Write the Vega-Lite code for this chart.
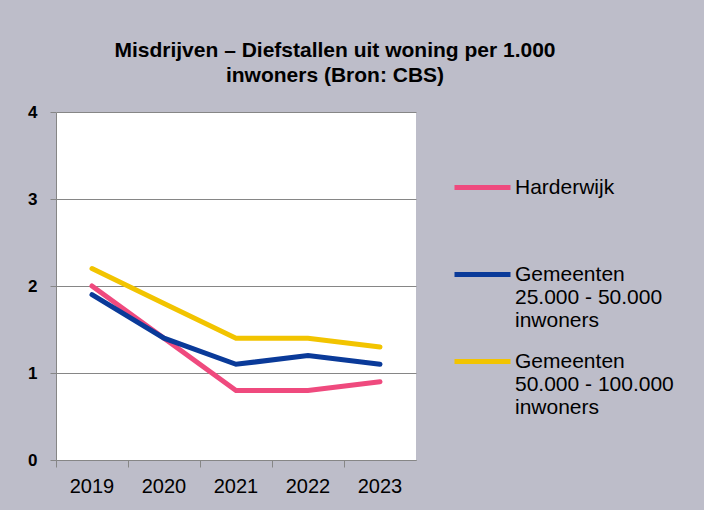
{
  "$schema": "https://vega.github.io/schema/vega-lite/v6.json",
  "width": 360,
  "height": 348,
  "autosize": {"type": "none"},
  "padding": {"left": 56, "top": 112, "right": 288, "bottom": 50},
  "background": "#bdbdc9",
  "title": {
    "text": ["Misdrijven – Diefstallen uit woning per 1.000", "inwoners (Bron: CBS)"],
    "anchor": "middle",
    "frame": "group",
    "dx": 99,
    "fontSize": 21,
    "font": "Liberation Sans",
    "fontWeight": "bold",
    "lineHeight": 25,
    "color": "#000000",
    "offset": 17
  },
  "config": {
    "view": {"fill": "#ffffff", "stroke": null},
    "font": "Liberation Sans"
  },
  "data": {
    "values": [
      {"jaar": "2019", "serie": "Harderwijk", "waarde": 2.0},
      {"jaar": "2020", "serie": "Harderwijk", "waarde": 1.4},
      {"jaar": "2021", "serie": "Harderwijk", "waarde": 0.8},
      {"jaar": "2022", "serie": "Harderwijk", "waarde": 0.8},
      {"jaar": "2023", "serie": "Harderwijk", "waarde": 0.9},
      {"jaar": "2019", "serie": "Gemeenten 25.000 - 50.000 inwoners", "waarde": 1.9},
      {"jaar": "2020", "serie": "Gemeenten 25.000 - 50.000 inwoners", "waarde": 1.4},
      {"jaar": "2021", "serie": "Gemeenten 25.000 - 50.000 inwoners", "waarde": 1.1},
      {"jaar": "2022", "serie": "Gemeenten 25.000 - 50.000 inwoners", "waarde": 1.2},
      {"jaar": "2023", "serie": "Gemeenten 25.000 - 50.000 inwoners", "waarde": 1.1},
      {"jaar": "2019", "serie": "Gemeenten 50.000 - 100.000 inwoners", "waarde": 2.2},
      {"jaar": "2020", "serie": "Gemeenten 50.000 - 100.000 inwoners", "waarde": 1.8},
      {"jaar": "2021", "serie": "Gemeenten 50.000 - 100.000 inwoners", "waarde": 1.4},
      {"jaar": "2022", "serie": "Gemeenten 50.000 - 100.000 inwoners", "waarde": 1.4},
      {"jaar": "2023", "serie": "Gemeenten 50.000 - 100.000 inwoners", "waarde": 1.3}
    ]
  },
  "mark": {"type": "line", "strokeWidth": 5, "strokeCap": "round", "strokeJoin": "miter"},
  "encoding": {
    "x": {
      "field": "jaar",
      "type": "ordinal",
      "scale": {"type": "band", "paddingInner": 0, "paddingOuter": 0},
      "axis": {
        "title": null,
        "labelAngle": 0,
        "bandPosition": 0,
        "labelFontSize": 20,
        "labelColor": "#000000",
        "labelPadding": 9,
        "domainColor": "#868686",
        "tickColor": "#868686",
        "tickSize": 7,
        "grid": false
      }
    },
    "y": {
      "field": "waarde",
      "type": "quantitative",
      "scale": {"domain": [0, 4]},
      "axis": {
        "title": null,
        "values": [0, 1, 2, 3, 4],
        "labelFontSize": 17,
        "labelFontWeight": "bold",
        "labelColor": "#000000",
        "labelPadding": 13,
        "domainColor": "#868686",
        "tickColor": "#868686",
        "tickSize": 6,
        "gridColor": "#868686",
        "gridOpacity": 1
      }
    },
    "color": {
      "field": "serie",
      "type": "nominal",
      "sort": ["Harderwijk", "Gemeenten 25.000 - 50.000 inwoners", "Gemeenten 50.000 - 100.000 inwoners"],
      "scale": {
        "domain": ["Harderwijk", "Gemeenten 25.000 - 50.000 inwoners", "Gemeenten 50.000 - 100.000 inwoners"],
        "range": ["#ef4a7e", "#0a3a99", "#f2c400"]
      },
      "legend": {
        "title": null,
        "orient": "none",
        "legendX": 396,
        "legendY": 45,
        "gridAlign": "all",
        "symbolType": "stroke",
        "symbolSize": 3136,
        "symbolStrokeWidth": 5,
        "labelFontSize": 21,
        "labelColor": "#000000",
        "labelLineHeight": 24,
        "labelOffset": 2,
        "labelLimit": 300,
        "rowPadding": 0,
        "labelExpr": "datum.label === 'Gemeenten 25.000 - 50.000 inwoners' ? ['Gemeenten', '25.000 - 50.000', 'inwoners'] : datum.label === 'Gemeenten 50.000 - 100.000 inwoners' ? ['Gemeenten', '50.000 - 100.000', 'inwoners'] : datum.label"
      }
    }
  }
}
